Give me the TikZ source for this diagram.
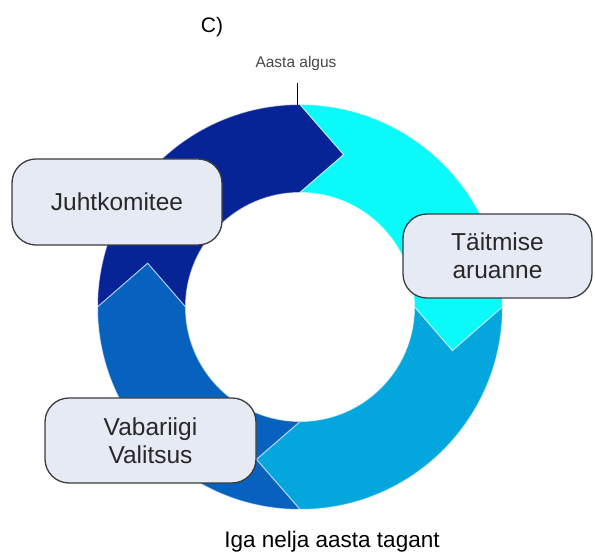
\documentclass[tikz,border=0pt]{standalone}
\usepackage{fontspec}
\setmainfont{Liberation Sans}
\definecolor{cnavy}{RGB}{6,36,150}
\definecolor{ccyan}{RGB}{10,250,250}
\definecolor{clight}{RGB}{4,166,222}
\definecolor{cmed}{RGB}{6,98,190}
\definecolor{boxfill}{RGB}{230,234,244}
\definecolor{boxline}{RGB}{60,60,60}
\definecolor{txt}{RGB}{40,40,40}
\tikzset{
  segment/.style={draw=white, draw opacity=0.55, line width=1pt, line join=miter},
  labelbox/.style={draw=boxline, line width=1.3pt, fill=boxfill, rounded corners=24pt,
    align=center, text=txt, font=\fontsize{24.5}{28}\selectfont, inner sep=0pt},
  captext/.style={anchor=base, inner sep=0pt}
}
\begin{document}
\begin{tikzpicture}[x=1pt,y=1pt]
\useasboundingbox (0,0) rectangle (595,553);
\begin{scope}[shift={(300,246)}]
\foreach \s/\col in {180/cnavy, 90/ccyan, 0/clight, -90/cmed} {
  \pgfmathsetmacro\e{\s-90}
  \pgfmathsetmacro\t{\s-106}
  \pgfmathsetmacro\n{\s-16}
  \filldraw[segment, fill=\col] (\s:202.5pt) arc[start angle=\s, end angle=\e, radius=202.5pt]
    -- (\t:158.5pt) -- (\e:114.5pt) arc[start angle=\e, end angle=\s, radius=114.5pt]
    -- (\n:158.5pt) -- cycle;
}
\end{scope}
\node[labelbox, minimum width=210pt, minimum height=86pt] (juht) at (117,351) {Juhtkomitee};
\node[labelbox, minimum width=189pt, minimum height=84pt] (taitm) at (497.5,297) {Täitmise\\aruanne};
\node[labelbox, minimum width=211pt, minimum height=85pt] (vabar) at (150.5,112.5) {Vabariigi\\Valitsus};
\node[captext, font=\fontsize{21}{24}\selectfont] (c) at (212,520) {C)};
\node[captext, text=txt!85!white, font=\fontsize{15.5}{18}\selectfont] (aa) at (296,485) {Aasta algus};
\coordinate (lt) at (297,470);
\coordinate (lb) at (297,448);
\draw[line width=1pt] (lt) -- (lb);
\node[captext, font=\fontsize{22.5}{26}\selectfont] (iga) at (332,5) {Iga nelja aasta tagant};
\end{tikzpicture}
\end{document}
